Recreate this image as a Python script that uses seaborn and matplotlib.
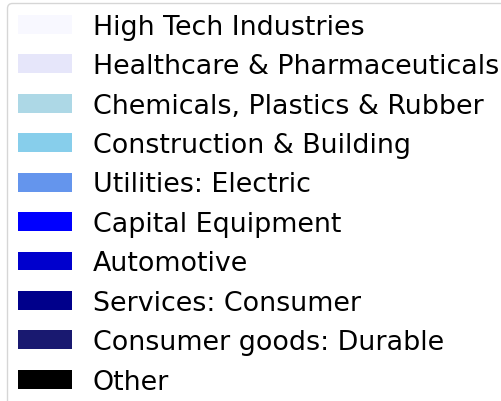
import matplotlib
matplotlib.use("Agg")
import matplotlib.pyplot as plt
import seaborn as sns
from matplotlib.patches import Patch

sectoren = ["High Tech Industries", "Healthcare & Pharmaceuticals", "Chemicals, Plastics & Rubber",
            "Construction & Building", "Utilities: Electric", "Capital Equipment", "Automotive",
            "Services: Consumer", "Consumer goods: Durable", "Other"]
kleuren = ["ghostwhite", "lavender", "lightblue", "skyblue", "cornflowerblue", "blue",
           "mediumblue", "darkblue", "midnightblue", "black"]

plt.rcParams["font.family"] = ["DejaVu Sans"]

fig = plt.figure(figsize=(5.01, 4.02), dpi=100)
ax = fig.add_axes([0, 0, 1, 1])
ax.axis("off")

palet = sns.color_palette(kleuren)
handles = [Patch(facecolor=c, label=s) for s, c in zip(sectoren, palet)]
# legenda loopt rechts en onder buiten het beeld, zoals in het origineel
fig.legend(handles=handles, loc="upper left", bbox_to_anchor=(7 / 501, 1 - 4 / 402),
           borderaxespad=0, fontsize=19.35, labelspacing=0.5, frameon=True)

fig.savefig("out.png", dpi=100)
